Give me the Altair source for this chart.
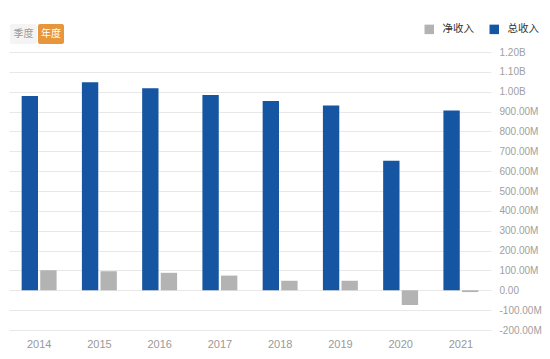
import altair as alt
import pandas as pd

years = ["2014", "2015", "2016", "2017", "2018", "2019", "2020", "2021"]
total_revenue = [978e6, 1048e6, 1018e6, 983e6, 953e6, 931e6, 652e6, 905e6]
net_income = [101e6, 96e6, 88e6, 74e6, 48e6, 48e6, -74e6, -9e6]
series_names = ["净收入", "总收入"]
series_colors = ["#b3b3b3", "#1655a1"]
y_ticks = [v * 1e8 for v in range(-2, 13)]

rows = []
for i, y in enumerate(years):
    rows.append({"year": y, "series": "总收入", "value": total_revenue[i]})
    rows.append({"year": y, "series": "净收入", "value": net_income[i]})
df = pd.DataFrame(rows)

label_expr = (
    "datum.value == 0 ? '0.00' : ((datum.value < 0 ? '-' : '') + "
    "(abs(datum.value) >= 1e9 ? format(abs(datum.value)/1e9, '.2f') + 'B' : "
    "format(abs(datum.value)/1e6, '.2f') + 'M'))"
)

bars = alt.Chart(df).mark_bar().encode(
    x=alt.X("year:N", sort=years, title=None,
            scale=alt.Scale(paddingInner=0.42, paddingOuter=0.21),
            axis=alt.Axis(labelAngle=0, ticks=False, domain=False, labelPadding=8,
                          labelColor="#999999", labelFontSize=11, labelFont="Liberation Sans")),
    xOffset=alt.XOffset("series:N", sort=["总收入", "净收入"],
                        scale=alt.Scale(domain=["总收入", "净收入"], paddingInner=0.12)),
    y=alt.Y("value:Q", title=None,
            scale=alt.Scale(domain=[-2e8, 1.2e9], nice=False),
            axis=alt.Axis(orient="right", values=y_ticks, labelExpr=label_expr,
                          ticks=False, domain=False, labelPadding=8,
                          labelColor="#a0a0a0", labelFontSize=10, labelFont="Liberation Sans",
                          gridColor="#e8e8e8", labelAlign="left")),
    color=alt.Color("series:N",
                    scale=alt.Scale(domain=series_names, range=series_colors),
                    legend=alt.Legend(title=None, orient="none", legendX=415, legendY=-28,
                                      direction="horizontal", symbolType="square",
                                      symbolSize=90, symbolStrokeWidth=0,
                                      labelFontSize=10.5, labelColor="#333333",
                                      labelFont="Noto Sans CJK SC",
                                      columnPadding=15, labelOffset=8)),
)

one = pd.DataFrame({"k": [0]})
btn1 = alt.Chart(one).mark_rect(color="#f4f4f4", cornerRadius=2).encode(
    x=alt.value(1), x2=alt.value(28), y=alt.value(-28), y2=alt.value(-8))
btn2 = alt.Chart(one).mark_rect(color="#e8963c", cornerRadius=2).encode(
    x=alt.value(29), x2=alt.value(55), y=alt.value(-28), y2=alt.value(-8))
txt1 = alt.Chart(one).mark_text(text="季度", color="#9a9a9a", fontSize=10,
                                font="Noto Sans CJK SC", baseline="middle").encode(
    x=alt.value(14.5), y=alt.value(-18))
txt2 = alt.Chart(one).mark_text(text="年度", color="#ffffff", fontSize=10,
                                font="Noto Sans CJK SC", baseline="middle").encode(
    x=alt.value(42), y=alt.value(-18))

chart = alt.layer(bars, btn1, btn2, txt1, txt2).properties(
    width=482, height=278,
    background="white",
    autosize=alt.AutoSizeParams(type="none"),
    padding={"left": 1, "top": 44, "right": 51, "bottom": 21},
).configure_view(stroke=None)

chart.save("out.html", embed_options={"renderer": "svg", "actions": False})
